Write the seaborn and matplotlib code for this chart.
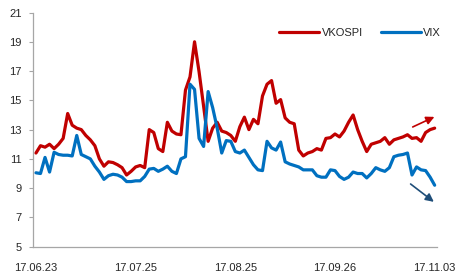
import numpy as np
import pandas as pd
import seaborn as sns
import matplotlib.pyplot as plt

# daily values, 2017-06-23 .. 2017-11-03 (trading days)
vkospi = [11.4, 11.9, 11.8, 12.0, 11.7, 12.0, 12.4, 14.1, 13.3, 13.1,
          13.0, 12.6, 12.3, 11.9, 11.0, 10.5, 10.8, 10.75, 10.6, 10.4,
          9.9, 10.15, 10.45, 10.55, 10.4, 13.0, 12.8, 11.7, 11.5, 13.5,
          12.9, 12.7, 12.65, 15.7, 16.6, 19.0, 16.95, 14.6, 12.2, 13.1,
          13.5, 12.9, 12.8, 12.6, 12.2, 13.2, 13.85, 13.0, 13.7, 13.4,
          15.3, 16.1, 16.35, 14.8, 15.05, 13.8, 13.5, 13.4, 11.6, 11.2,
          11.4, 11.5, 11.7, 11.6, 12.4, 12.45, 12.7, 12.5, 12.9, 13.5,
          14.0, 13.0, 12.2, 11.5, 12.0, 12.1, 12.2, 12.45, 12.0, 12.3,
          12.4, 12.5, 12.65, 12.4, 12.45, 12.2, 12.8, 13.0, 13.1]
vix = [10.05, 10.0, 11.1, 10.1, 11.45, 11.3, 11.25, 11.25, 11.2, 12.6,
       11.3, 11.15, 11.0, 10.5, 10.1, 9.6, 9.85, 9.95, 9.9, 9.75,
       9.45, 9.45, 9.5, 9.5, 9.8, 10.3, 10.35, 10.15, 10.3, 10.5,
       10.15, 10.0, 11.0, 11.15, 16.1, 15.75, 12.4, 11.85, 15.6, 14.5,
       13.1, 11.4, 12.25, 12.2, 11.5, 11.4, 11.6, 11.1, 10.6, 10.25,
       10.2, 12.2, 11.75, 11.6, 12.15, 10.8, 10.65, 10.55, 10.45, 10.25,
       10.25, 10.25, 9.85, 9.75, 9.75, 10.25, 10.2, 9.8, 9.6, 9.75,
       10.1, 10.0, 10.0, 9.7, 10.0, 10.4, 10.25, 10.15, 10.4, 11.15,
       11.25, 11.3, 11.4, 9.9, 10.45, 10.25, 10.2, 9.75, 9.2]
tick_pos = [0, 22, 44, 66, 88]
tick_labels = ['17.06.23', '17.07.25', '17.08.25', '17.09.26', '17.11.03']

df = pd.DataFrame({'idx': np.arange(len(vkospi)), 'VKOSPI': vkospi, 'VIX': vix})

sns.set_style('white')
plt.rcParams['font.family'] = ['Liberation Sans', 'DejaVu Sans']

fig = plt.figure(figsize=(4.58, 2.72), dpi=100)
ax = fig.add_axes([0.072, 0.093, 0.882, 0.861])

sns.lineplot(x='idx', y='VKOSPI', data=df, ax=ax, color='#C00000', lw=2.3, label='VKOSPI')
sns.lineplot(x='idx', y='VIX', data=df, ax=ax, color='#0070C0', lw=2.3, label='VIX')

# trend arrows
ax.annotate('', xy=(88.5, 13.95), xytext=(82.6, 13.1),
            arrowprops=dict(arrowstyle='-|>', color='#C00000', lw=1.2, mutation_scale=12))
ax.annotate('', xy=(88.3, 7.95), xytext=(82.2, 9.4),
            arrowprops=dict(arrowstyle='-|>', color='#1F4E79', lw=1.2, mutation_scale=12))

ax.set_xlim(-0.66, 88.5)
ax.set_ylim(5, 21)
ax.set_yticks(range(5, 22, 2))
ax.set_xticks(tick_pos)
ax.set_xticklabels(tick_labels)
ax.set_xlabel('')
ax.set_ylabel('')
ax.tick_params(axis='y', left=True, length=3, width=0.8, color='#A6A6A6', pad=5, labelsize=8)
ax.tick_params(axis='x', bottom=False, pad=8, labelsize=8)
for s in ['top', 'right']:
    ax.spines[s].set_visible(False)
for s in ['left', 'bottom']:
    ax.spines[s].set_color('#A6A6A6')
    ax.spines[s].set_linewidth(0.9)

ax.legend(loc='upper right', ncol=2, frameon=False, fontsize=8,
          handlelength=3.6, columnspacing=1.6, handletextpad=0.25,
          bbox_to_anchor=(1.035, 0.975))

fig.savefig('out.png', dpi=100)
